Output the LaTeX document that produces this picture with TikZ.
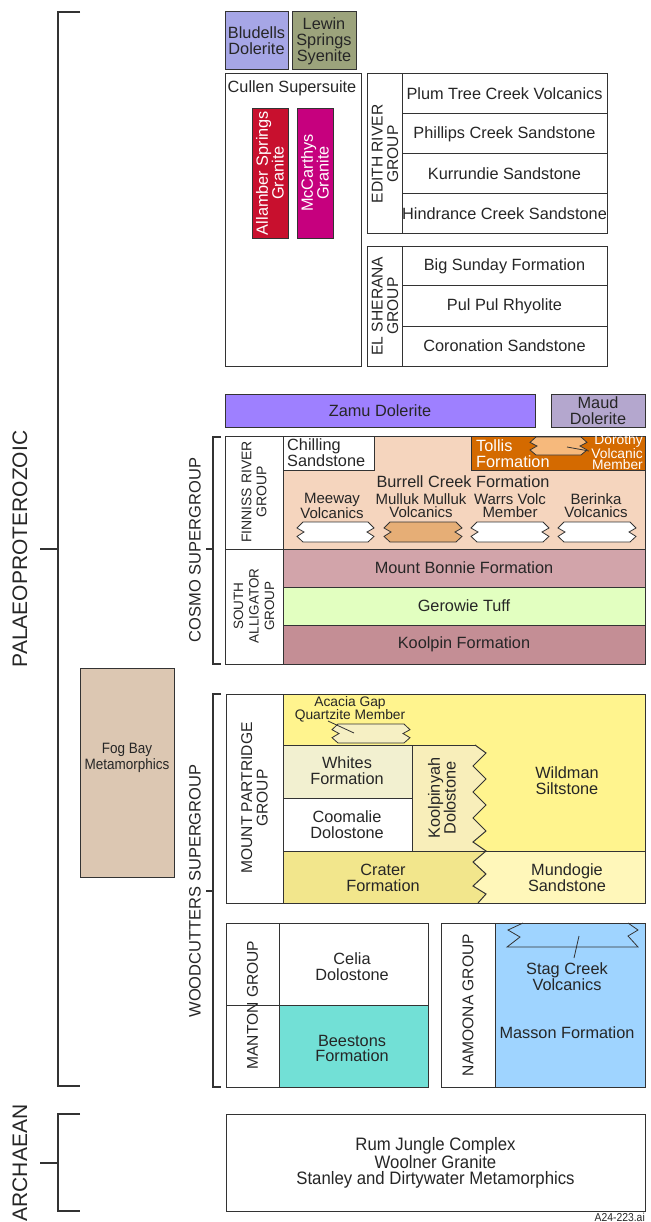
\documentclass[tikz,border=0pt]{standalone}
\usepackage{fontspec}
\setmainfont{Liberation Sans}
\newfontfamily\narrowfont[FakeStretch=0.9]{Liberation Sans}
\newfontfamily\rjfont[FakeStretch=0.93]{Liberation Sans}
\definecolor{lc}{HTML}{333333}
\definecolor{tc}{HTML}{262626}
\definecolor{cBlu}{HTML}{A6A6E6}
\definecolor{cLew}{HTML}{9CA37C}
\definecolor{cAll}{HTML}{C8102E}
\definecolor{cMcc}{HTML}{C6007E}
\definecolor{cZam}{HTML}{9E80FF}
\definecolor{cMau}{HTML}{B4A7CE}
\definecolor{cFin}{HTML}{F5D5BE}
\definecolor{cTol}{HTML}{D46A00}
\definecolor{cDor}{HTML}{F6B97C}
\definecolor{cMul}{HTML}{E6AE76}
\definecolor{cBon}{HTML}{D2A4AA}
\definecolor{cGer}{HTML}{E2FFC0}
\definecolor{cKoo}{HTML}{C48E95}
\definecolor{cFog}{HTML}{DCC7B2}
\definecolor{cWil}{HTML}{FFF48E}
\definecolor{cAca}{HTML}{F6F0C4}
\definecolor{cWhi}{HTML}{F2F0D0}
\definecolor{cKpy}{HTML}{F8EEBA}
\definecolor{cCra}{HTML}{F2E68C}
\definecolor{cMun}{HTML}{FFF7BA}
\definecolor{cBee}{HTML}{72E0D6}
\definecolor{cMas}{HTML}{9FD4FF}
\newcommand\fA{\fontsize{16.3}{15.8}\selectfont}
\newcommand\fSub{\fontsize{15}{13}\selectfont}
\newcommand\fSm{\fontsize{13.8}{11.5}\selectfont}
\newcommand\fAca{\fontsize{13.8}{13}\selectfont}
\newcommand\fGrp{\fontsize{15.6}{15.5}\selectfont}
\newcommand\fGs{\fontsize{14}{15}\selectfont}
\newcommand\fGss{\fontsize{13.5}{15.5}\selectfont}
\newcommand\fSup{\fontsize{16.5}{16}\selectfont}
\newcommand\fEra{\fontsize{21}{21}\selectfont}
\newcommand\geobox[7]{\draw[bx,fill=#6] (#2,#3) rectangle (#4,#5);
  \node[lab] (#1) at ({(#2+#4)/2},{(#3+#5)/2}) {#7};}
\newcommand\lensshape[5]{\draw[bx, line width=0.8pt, fill=#5]
  ({#1+6},#2) -- ({#3-6},#2) -- (#3,{#2+0.3*(#4-#2)}) -- ({#3-7},{#2+0.5*(#4-#2)})
  -- (#3,{#2+0.72*(#4-#2)}) -- ({#3-6},#4) -- ({#1+6},#4) -- (#1,{#2+0.72*(#4-#2)})
  -- ({#1+7},{#2+0.5*(#4-#2)}) -- (#1,{#2+0.3*(#4-#2)}) -- cycle;}
\begin{document}
\begin{tikzpicture}[x=1pt,y=-1pt,line join=miter,
  bx/.style={draw=lc, line width=1pt},
  brk/.style={draw=lc, line width=1.1pt},
  lead/.style={draw=lc, line width=0.8pt},
  lab/.style={inner sep=0pt, align=center, text=tc, font=\fA},
  grp/.style={lab, rotate=90, font=\fGrp}]
\useasboundingbox (0,0) rectangle (650,1222);

% ---------- era brackets ----------
\draw[brk] (80,12) -- (58,12) -- (58,1086) -- (80,1086);
\draw[brk] (40,549) -- (58,549);
\node[lab, rotate=90, font=\fEra] (palaeo) at (20,549) {PALAEOPROTEROZOIC};
\draw[brk] (80,1114) -- (58,1114) -- (58,1211) -- (80,1211);
\draw[brk] (40,1163) -- (58,1163);
\node[lab, rotate=90, font=\fEra] (archaean) at (20,1163) {ARCHAEAN};

% ---------- top intrusives ----------
\geobox{bludells}{225}{12}{288}{70}{cBlu}{Bludells\\Dolerite}
\geobox{lewin}{292}{12}{356}{70}{cLew}{Lewin\\Springs\\Syenite}
\draw[bx, fill=white] (225,74) rectangle (361,366);
\node[lab] (cullen) at (292,88) {Cullen Supersuite};
\draw[bx, line width=0.8pt, fill=cAll] (252,108) rectangle (288,238);
\node[lab, rotate=90, text=white] (allamber) at (270,173) {Allamber Springs\\Granite};
\draw[bx, line width=0.8pt, fill=cMcc] (297,108) rectangle (333,238);
\node[lab, rotate=90, text=white] (mccarthys) at (315,173) {McCarthys\\Granite};

% ---------- Edith River Group ----------
\draw[bx, fill=white] (367,74) rectangle (607,234);
\draw[bx] (402,74) -- (402,234);
\draw[bx] (402,114) -- (607,114) (402,154) -- (607,154) (402,194) -- (607,194);
\node[grp] (edith) at (385,154) {EDITH RIVER\\GROUP};
\node[lab] (plum) at (504.5,94) {Plum Tree Creek Volcanics};
\node[lab] (phillips) at (504.5,134) {Phillips Creek Sandstone};
\node[lab] (kurrundie) at (504.5,174) {Kurrundie Sandstone};
\node[lab] (hindrance) at (504.5,214) {Hindrance Creek Sandstone};

% ---------- El Sherana Group ----------
\draw[bx, fill=white] (367,247) rectangle (607,366);
\draw[bx] (402,247) -- (402,366);
\draw[bx] (402,286) -- (607,286) (402,326) -- (607,326);
\node[grp] (elsherana) at (385,306) {EL SHERANA\\GROUP};
\node[lab] (bigsunday) at (504.5,266.5) {Big Sunday Formation};
\node[lab] (pulpul) at (504.5,306) {Pul Pul Rhyolite};
\node[lab] (coronation) at (504.5,346) {Coronation Sandstone};

% ---------- dolerites ----------
\geobox{zamu}{225}{394}{535}{427}{cZam}{Zamu Dolerite}
\geobox{maud}{551}{394}{645}{427}{cMau}{Maud\\Dolerite}

% ---------- Cosmo Supergroup ----------
\draw[brk] (221,437) -- (213,437) -- (213,664) -- (221,664);
\draw[brk] (206,549) -- (213,549);
\node[lab, rotate=90, font=\fSup] (cosmo) at (195,550) {COSMO SUPERGROUP};

% Finniss River Group
\draw[bx, fill=cFin] (225,436) rectangle (645,549);
\draw[bx, fill=white] (225,436) rectangle (283,549);
\node[lab, rotate=90, font=\fGs] (finniss) at (254,492) {FINNISS RIVER\\GROUP};
\draw[bx, fill=white] (283,436) rectangle (374,470);
\node[lab, align=left, anchor=west] (chilling) at (287,452.5) {Chilling\\Sandstone};
\draw[bx, fill=cTol] (471,436) rectangle (645,470);
\node[lab, align=left, anchor=west, text=white] (tollis) at (476,454) {Tollis\\Formation};
\lensshape{530}{437}{587}{455}{cDor}
\coordinate (dorlens) at (567,447);
\node[lab, align=right, anchor=east, text=white, font=\fSm] (dorothy) at (643,452) {Dorothy\\Volcanic\\Member};
\draw[lead] (dorlens) -- (589,451);
\node[lab] (burrell) at (463,481.5) {Burrell Creek Formation};
\node[lab, font=\fSub] (meeway) at (332,505.5) {Meeway\\Volcanics};
\node[lab, font=\fSub] (mulluk) at (421,505.5) {Mulluk Mulluk\\Volcanics};
\node[lab, font=\fSub] (warrs) at (510,505.5) {Warrs Volc\\Member};
\node[lab, font=\fSub] (berinka) at (596,505.5) {Berinka\\Volcanics};
\lensshape{297}{522}{374}{542}{white}
\lensshape{384}{522}{462}{542}{cMul}
\lensshape{471}{522}{549}{542}{white}
\lensshape{558}{522}{636}{542}{white}

% South Alligator Group
\draw[bx, fill=cBon] (283,549) rectangle (645,587);
\draw[bx, fill=cGer] (283,587) rectangle (645,625);
\draw[bx, fill=cKoo] (283,625) rectangle (645,664);
\draw[bx, fill=white] (225,549) rectangle (283,664);
\node[lab, rotate=90, font=\fGss] (southall) at (254,606) {SOUTH\\ALLIGATOR\\GROUP};
\node[lab] (bonnie) at (464,568) {Mount Bonnie Formation};
\node[lab] (gerowie) at (464,606) {Gerowie Tuff};
\node[lab] (koolpin) at (464,644.5) {Koolpin Formation};

% ---------- Fog Bay ----------
\draw[bx, fill=cFog] (80,668) rectangle (174,877);
\node[lab, font=\narrowfont\fontsize{15}{16}\selectfont] (fogbay) at (127,758) {Fog Bay\\Metamorphics};

% ---------- Woodcutters Supergroup ----------
\draw[brk] (221,694) -- (213,694) -- (213,1087) -- (221,1087);
\draw[brk] (206,891) -- (213,891);
\node[lab, rotate=90, font=\fSup] (woodcutters) at (195,891) {WOODCUTTERS SUPERGROUP};

% Mount Partridge Group
\fill[cWil] (283,694) rectangle (645,851);
\fill[cMun] (283,851) rectangle (645,903);
\fill[cCra] (283,851) -- (486,851) -- (473,862) -- (486,874) -- (473,886) -- (486,894) -- (478,903) -- (283,903) -- cycle;
\fill[cWhi] (283,745) rectangle (412,798);
\fill[white] (283,798) rectangle (412,851);
\fill[cKpy] (412,745) -- (475,745) -- (486,753) -- (473,766) -- (486,779) -- (473,792) -- (486,805) -- (473,818) -- (486,831) -- (473,842) -- (486,851) -- (412,851) -- cycle;
\draw[bx] (283,745) -- (475,745);
\draw[bx] (283,798) -- (412,798);
\draw[bx] (412,745) -- (412,851);
\draw[bx] (283,851) -- (645,851);
\draw[bx] (475,745) -- (486,753) -- (473,766) -- (486,779) -- (473,792) -- (486,805) -- (473,818) -- (486,831) -- (473,842) -- (486,851) -- (473,862) -- (486,874) -- (473,886) -- (486,894) -- (478,903);
\draw[bx] (226,694) rectangle (645,903);
\draw[bx] (283,694) -- (283,903);
\node[grp] (mtpartridge) at (254.5,798) {MOUNT PARTRIDGE\\GROUP};
\node[lab, font=\fAca] (acacia) at (350,709) {Acacia Gap\\Quartzite Member};
\lensshape{332}{724}{410}{743}{cAca}
\coordinate (acalens) at (354,733);
\draw[lead] (328,721) -- (acalens);
\node[lab] (whites) at (347,771) {Whites\\Formation};
\node[lab] (coomalie) at (347,825) {Coomalie\\Dolostone};
\node[lab, rotate=90] (koolpinyah) at (442,798) {Koolpinyah\\Dolostone};
\node[lab] (wildman) at (567,781) {Wildman\\Siltstone};
\node[lab] (crater) at (383,877.5) {Crater\\Formation};
\node[lab] (mundogie) at (567,877.5) {Mundogie\\Sandstone};

% Manton Group
\draw[bx, fill=white] (226,923) rectangle (428,1005);
\draw[bx, fill=cBee] (279,1005) rectangle (428,1087);
\draw[bx] (226,923) rectangle (428,1087);
\draw[bx] (279,923) -- (279,1087);
\node[grp] (manton) at (252.5,1005) {MANTON GROUP};
\node[lab] (celia) at (352,966.5) {Celia\\Dolostone};
\node[lab] (beestons) at (352,1048.5) {Beestons\\Formation};

% Namoona Group
\draw[bx, fill=cMas] (441,923) rectangle (645,1087);
\draw[bx, fill=white] (441,923) rectangle (495,1087);
\node[grp] (namoona) at (468,1005) {NAMOONA GROUP};
\draw[bx, line width=0.8pt] (523,923) -- (508,930) -- (520,937) -- (507,947) -- (638,947) -- (628,936) -- (638,930) -- (628,923);
\coordinate (staglens) at (579,936);
\node[lab] (stag) at (567,976.5) {Stag Creek\\Volcanics};
\draw[lead] (staglens) -- (574,958);
\node[lab] (masson) at (567,1033) {Masson Formation};

% ---------- Archaean basement ----------
\draw[bx, fill=white] (226,1114) rectangle (645,1211);
\node[lab, font=\rjfont\fontsize{18}{16}\selectfont] (rumjungle) at (435.5,1163) {Rum Jungle Complex\\Woolner Granite\\Stanley and Dirtywater Metamorphics};
\node[lab, anchor=north east, font=\narrowfont\fontsize{11.5}{12}\selectfont] (fileid) at (645,1213) {A24-223.ai};
\end{tikzpicture}
\end{document}
